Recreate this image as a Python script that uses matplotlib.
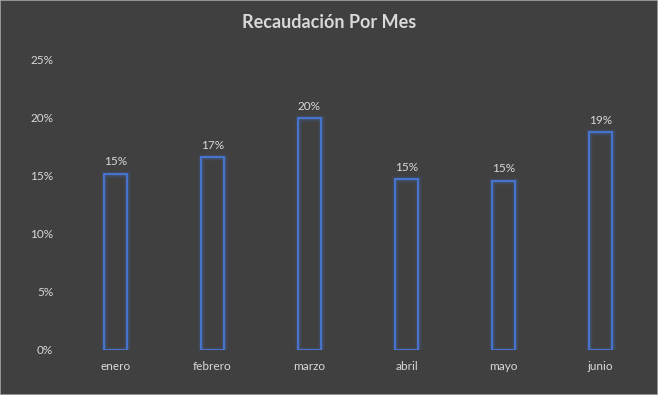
import matplotlib
matplotlib.use("Agg")
import matplotlib.pyplot as plt
from matplotlib.patches import Rectangle
from matplotlib.ticker import PercentFormatter, MultipleLocator
import numpy as np

months = ["enero", "febrero", "marzo", "abril", "mayo", "junio"]
values = [0.152, 0.166, 0.200, 0.147, 0.146, 0.188]
labels = ["15%", "17%", "20%", "15%", "15%", "19%"]

bg = "#404040"
txt = "#d9d9d9"
blue = "#4472c4"

plt.rcParams['font.family'] = ['Lato', 'DejaVu Sans']

fig = plt.figure(figsize=(6.58, 3.95), dpi=100, facecolor=bg)
ax = fig.add_axes([67/658, 1-350/395, (649-67)/658, (350-60)/395])
ax.set_facecolor(bg)

x = np.arange(len(months))
w = 0.24
# glow
for lw, a in [(5, 0.08), (3.5, 0.12), (2.5, 0.2)]:
    ax.bar(x, values, width=w, facecolor="none", edgecolor=blue, linewidth=lw, alpha=a)
ax.bar(x, values, width=w, facecolor="none", edgecolor="#4a7be0", linewidth=1.2)

for xi, v, l in zip(x, values, labels):
    ax.text(xi, v + 0.0055, l, ha="center", va="bottom", color=txt, fontsize=8.5)

ax.set_ylim(0, 0.25)
ax.set_xlim(-0.5, len(months) - 0.5)
ax.yaxis.set_major_locator(MultipleLocator(0.05))
ax.yaxis.set_major_formatter(PercentFormatter(1.0, decimals=0))
ax.set_xticks(x)
ax.set_xticklabels(months)
ax.tick_params(axis="both", length=0, colors=txt, labelsize=8.5)
ax.tick_params(axis="y", pad=10)
ax.tick_params(axis="x", pad=8)
for s in ax.spines.values():
    s.set_visible(False)

fig.text(0.5, 1 - 22/395, "Recaudación Por Mes", ha="center", va="center",
         color=txt, fontsize=13, fontweight="bold")

fig.patches.append(Rectangle((0, 0), 1, 1, transform=fig.transFigure,
                             facecolor="none", edgecolor="#a6a6a6", linewidth=1.2))

fig.savefig("out.png", dpi=100, facecolor=bg)
